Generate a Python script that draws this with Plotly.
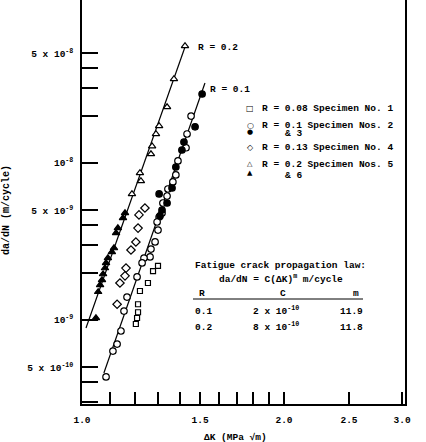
import plotly.graph_objects as go

# ---------------- data ----------------
# Specimen No. 1 (R = 0.08), open squares
s1_dk = [1.298, 1.276, 1.254, 1.220, 1.212, 1.212, 1.208, 1.203]
s1_da = [2.21e-9, 2.05e-9, 1.72e-9, 1.53e-9, 1.26e-9, 1.12e-9, 1.03e-9, 9.43e-10]

# Specimen No. 2 (R = 0.1), open circles
s2_dk = [1.454, 1.434, 1.429, 1.390, 1.380, 1.366, 1.343, 1.339, 1.320, 1.316,
         1.303, 1.294, 1.298, 1.285, 1.267, 1.263, 1.237, 1.229, 1.208, 1.167,
         1.155, 1.143, 1.128, 1.112, 1.086]
s2_da = [1.99e-8, 1.53e-8, 1.25e-8, 1.03e-8, 8.39e-9, 7.57e-9, 6.83e-9, 6.16e-9, 5.56e-9, 4.80e-9,
         4.53e-9, 4.21e-9, 3.74e-9, 3.14e-9, 2.83e-9, 2.52e-9, 2.48e-9, 2.31e-9, 1.88e-9, 1.40e-9,
         1.14e-9, 8.51e-10, 7.03e-10, 6.34e-10, 4.34e-10]

# Specimen No. 3 (R = 0.1), filled circles
s3_dk = [1.510, 1.474, 1.419, 1.409, 1.380, 1.362, 1.303, 1.339, 1.316, 1.307]
s3_da = [2.75e-8, 1.70e-8, 1.36e-8, 1.21e-8, 9.43e-9, 6.93e-9, 6.35e-9, 5.56e-9, 5.02e-9, 4.60e-9]

# Specimen No. 4 (R = 0.13), open diamonds
s4_dk = [1.241, 1.216, 1.212, 1.203, 1.183, 1.163, 1.159, 1.139, 1.128]
s4_da = [5.17e-9, 4.67e-9, 3.85e-9, 3.14e-9, 2.79e-9, 2.14e-9, 1.91e-9, 1.72e-9, 1.26e-9]

# Specimen No. 5 (R = 0.2), open triangles
s5_dk = [1.424, 1.371, 1.339, 1.303, 1.289, 1.272, 1.267, 1.220, 1.224, 1.187]
s5_da = [5.56e-8, 3.43e-8, 2.27e-8, 1.72e-8, 1.53e-8, 1.28e-8, 1.14e-8, 8.64e-9, 7.68e-9, 6.35e-9]

# Specimen No. 6 (R = 0.2), filled triangles
s6_dk = [1.159, 1.151, 1.131, 1.124, 1.116, 1.108, 1.093, 1.086, 1.082, 1.075,
         1.071, 1.064, 1.057, 1.049]
s6_da = [4.80e-9, 4.46e-9, 3.85e-9, 3.58e-9, 2.87e-9, 2.71e-9, 2.48e-9, 2.31e-9, 2.14e-9, 1.96e-9,
         1.80e-9, 1.67e-9, 1.51e-9, 1.03e-9]

# Fitted propagation-law lines (end points)
fit01_dk = [1.078, 1.525]
fit01_da = [4.60e-10, 3.23e-8]
fit02_dk = [1.0138, 1.424]
fit02_da = [8.9e-10, 5.48e-8]

# Axis ticks
x_tickvals = [1.0, 1.1, 1.2, 1.3, 1.4, 1.5, 1.6, 1.7, 1.8, 1.9, 2.0, 2.5, 3.0]
x_ticktext = ["1.0", "", "", "", "", "1.5", "", "", "", "", "2.0", "2.5", "3.0"]
y_tickvals = [3e-10, 4e-10, 5e-10, 1e-9, 2e-9, 3e-9, 4e-9, 5e-9, 1e-8, 2e-8, 3e-8, 4e-8, 5e-8]
y_ticktext = ["", "", "5 x 10<sup>-10</sup>", "10<sup>-9</sup>", "", "", "", "5 x 10<sup>-9</sup>",
              "10<sup>-8</sup>", "", "", "", "5 x 10<sup>-8</sup>"]

# Table of the propagation law
tab_R = ["0.1", "0.2"]
tab_C = ["2 x 10<sup>-10</sup>", "8 x 10<sup>-10</sup>"]
tab_m = ["11.9", "11.8"]

# ---------------- layout helpers ----------------
W, H = 426, 442
ML, MR, MT, MB = 82, 21, 0, 38
PW, PH = W - ML - MR, H - MT - MB
FONT = "Liberation Mono, Courier New, monospace"
FS = 9.5
FW = "bold"


def px(x):
    return (x - ML) / PW


def py(y):
    return (H - MB - y) / PH


fig = go.Figure()

for dk, da in [(fit01_dk, fit01_da), (fit02_dk, fit02_da)]:
    fig.add_trace(go.Scatter(x=dk, y=da, mode="lines",
                             line=dict(color="black", width=1.2), showlegend=False,
                             hoverinfo="skip"))

series = [
    (s1_dk, s1_da, "square", "white", 5, "R = 0.08 Specimen No. 1"),
    (s2_dk, s2_da, "circle", "white", 6.5, "R = 0.1 Specimen No. 2"),
    (s3_dk, s3_da, "circle", "black", 6.5, "R = 0.1 Specimen No. 3"),
    (s4_dk, s4_da, "diamond", "white", 6.5, "R = 0.13 Specimen No. 4"),
    (s5_dk, s5_da, "triangle-up", "white", 6.5, "R = 0.2 Specimen No. 5"),
    (s6_dk, s6_da, "triangle-up", "black", 6.5, "R = 0.2 Specimen No. 6"),
]
for dk, da, sym, fill, size, name in series:
    fig.add_trace(go.Scatter(x=dk, y=da, mode="markers", name=name, showlegend=False,
                             marker=dict(symbol=sym, size=size, color=fill,
                                         line=dict(color="black", width=1.2))))

ann = []


def text(x, y, s, anchor="left", size=FS, family=FONT, weight=FW):
    ann.append(dict(x=px(x), y=py(y), xref="paper", yref="paper", text=s,
                    showarrow=False, xanchor=anchor, yanchor="middle",
                    font=dict(family=family, size=size, color="black", weight=weight)))


# line labels
text(196, 47, "R = 0.2")
text(208, 90, "R = 0.1")

# legend (text key)
SYMF = "DejaVu Sans"
text(250, 108, "□", "center", 8, SYMF)
text(260, 108, "R = 0.08 Specimen No. 1")
text(250, 125, "○", "center", 8, SYMF)
text(260, 125, "R = 0.1 Specimen Nos. 2")
text(250, 132, "●", "center", 7, SYMF)
text(283, 134, "& 3")
text(250, 147, "◇", "center", 8, SYMF)
text(260, 147, "R = 0.13 Specimen No. 4")
text(250, 164, "△", "center", 7, SYMF)
text(260, 164, "R = 0.2 Specimen Nos. 5")
text(250, 173, "▲", "center", 7, SYMF)
text(283, 175, "& 6")

# propagation-law table
text(193, 265, "Fatigue crack propagation law:")
text(217, 278, "da/dN = C(ΔK)<sup>m</sup> m/cycle")
text(202, 293, "R", "center")
text(283, 293, "C", "center")
text(356, 293, "m", "center")
for i, (r, c, m) in enumerate(zip(tab_R, tab_C, tab_m)):
    yy = 311 + 16 * i
    text(193, yy, r)
    text(251, yy - 1, c)
    text(365, yy, m, "right")

# axis titles
text(235, 437, "ΔK (MPa √m)", "center")
ann.append(dict(x=px(6), y=py(210), xref="paper", yref="paper",
                text="da/dN (m/cycle)", showarrow=False, xanchor="center", yanchor="middle",
                textangle=-90, font=dict(family=FONT, size=10, color="black", weight=FW)))

shapes = [dict(type="line", xref="paper", yref="paper", x0=px(193), x1=px(363),
               y0=py(299), y1=py(299), line=dict(color="black", width=1))]

tickfont = dict(family=FONT, size=FS, color="black", weight=FW)
fig.update_layout(
    width=W, height=H,
    margin=dict(l=ML, r=MR, t=MT, b=MB, pad=0),
    paper_bgcolor="white", plot_bgcolor="white",
    annotations=ann, shapes=shapes, showlegend=False,
    xaxis=dict(type="log", range=[0, 0.4814], tickmode="array",
               tickvals=x_tickvals, ticktext=x_ticktext, ticks="inside", ticklen=12,
               tickwidth=1.5, tickcolor="black", showgrid=False, zeroline=False,
               showline=True, linecolor="black", linewidth=1.5, mirror=False,
               tickfont=tickfont, ticklabelstandoff=6),
    yaxis=dict(type="log", range=[-9.535, -6.962], tickmode="array",
               tickvals=y_tickvals, ticktext=y_ticktext, ticks="inside", ticklen=16,
               tickwidth=1.5, tickcolor="black", showgrid=False, zeroline=False,
               showline=True, linecolor="black", linewidth=1.5, mirror=True,
               tickfont=tickfont, ticklabelstandoff=5),
)

fig.write_html("out.html")
